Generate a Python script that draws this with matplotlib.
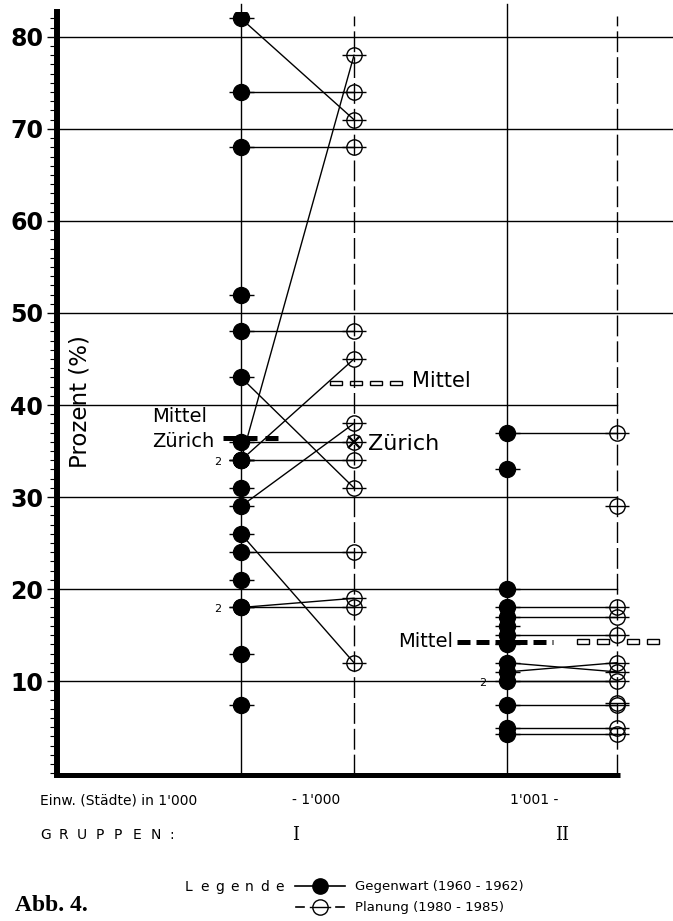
import matplotlib
matplotlib.use("Agg")
from matplotlib import pyplot as plt
from matplotlib.patches import Rectangle
from matplotlib.ticker import MultipleLocator

# Gruppe I (- 1'000 Einw.): Gegenwart -> Planung, paarweise verbunden
g1_now_linked = [82, 74, 68, 48, 43, 36, 34, 34, 34, 29, 26, 24, 18, 18]
g1_plan_linked = [71, 74, 68, 48, 31, 36, 34, 45, 78, 38, 12, 24, 19, 18]
g1_now_single = [52, 31, 21, 13, 7.4]
g1_plan_single = []

# Gruppe II (1'001 - Einw.)
g2_now_linked = [37, 18, 17, 15, 12, 11, 10, 7.4, 4.9, 4.3]
g2_plan_linked = [37, 18, 17, 15, 11, 12, 10, 7.4, 4.9, 4.3]
g2_now_single = [33, 20, 16, 14]
g2_plan_single = [29, 7.6]

mean_now = [36.4, 14.2]
mean_plan = [42.4, 14.3]
zurich_now = 36
zurich_plan = 36
double_g1 = [34, 18]
double_g2 = [10]

yticks = [10, 20, 30, 40, 50, 60, 70, 80]

W, H = 673, 921
fig = plt.figure(figsize=(W / 100, H / 100), dpi=100)


def px(x, y):
    return x / W, 1 - y / H


def spaced(text, x, y, step, size=10):
    # gesperrte Schrift, Buchstabe fuer Buchstabe
    for i, ch in enumerate(text):
        fig.text(*px(x + i * step, y), ch, fontsize=size, va="center")


ax = fig.add_axes([57 / W, 146 / H, 616 / W, 763 / H])
ax.set_xlim(0, 6.16)
ax.set_ylim(-0.2, 82.7)

cols = [1.84, 2.97, 4.50, 5.60]   # Gegenwart I, Planung I, Gegenwart II, Planung II

for s in ["top", "right", "bottom"]:
    ax.spines[s].set_visible(False)
ax.spines["left"].set_linewidth(4.3)
ax.set_xticks([])
ax.set_yticks(yticks)
ax.yaxis.set_minor_locator(MultipleLocator(1))
ax.tick_params(axis="y", which="major", length=7, width=1, pad=3, labelsize=17)
ax.tick_params(axis="y", which="minor", length=5, width=0.8)
for lab in ax.get_yticklabels():
    lab.set_fontweight("bold")

# horizontale Linien
for v in yticks:
    end = 6.16 if v >= 50 else cols[3]
    ax.plot([0, end], [v, v], color="black", lw=1.0, zorder=1)
ax.plot([0, 5.63], [-0.2, -0.2], color="black", lw=3.6, clip_on=False,
        solid_capstyle="butt", zorder=3)

# senkrechte Linien
for c in [cols[0], cols[2]]:
    ax.plot([c, c], [-0.2, 83.6], color="black", lw=1.0, clip_on=False, zorder=1)
for c in [cols[1], cols[3]]:
    ax.plot([c, c], [-0.2, 82.3], color="black", lw=1.0, clip_on=False,
            linestyle=(0, (15, 3.6)), zorder=1)

# Verbindungen
for x0, x1, a, b in [(cols[0], cols[1], g1_now_linked, g1_plan_linked),
                     (cols[2], cols[3], g2_now_linked, g2_plan_linked)]:
    for ya, yb in zip(a, b):
        ax.plot([x0, x1], [ya, yb], color="black", lw=1.0, zorder=2)

# Mittelwerte Gegenwart (fett gestrichelt)
ax.plot([1.66, 2.27], [mean_now[0]] * 2, color="black", lw=3.6,
        linestyle=(0, (2.6, 1.6)), solid_capstyle="butt", zorder=2)
ax.plot([4.00, 4.96], [mean_now[1]] * 2, color="black", lw=3.6,
        linestyle=(0, (2.6, 1.2)), solid_capstyle="butt", zorder=2)

# Mittelwerte Planung (offene Rechtecke)
rw, rh = 0.12, 0.5
for x in [2.73, 2.93, 3.13, 3.33]:
    ax.add_patch(Rectangle((x, mean_plan[0] - rh / 2), rw, rh, fill=False,
                           edgecolor="black", lw=1.0, zorder=2))
for x in [5.20, 5.40, 5.70, 5.90]:
    ax.add_patch(Rectangle((x, mean_plan[1] - rh / 2), rw, rh, fill=False,
                           edgecolor="black", lw=1.0, zorder=2))


def now_marks(x, vals):
    xs = [x] * len(vals)
    ax.plot(xs, vals, "_", color="black", ms=18, mew=1.0, zorder=4)
    ax.plot(xs, vals, "o", color="black", ms=11.5, zorder=5)


def plan_marks(x, vals):
    xs = [x] * len(vals)
    ax.plot(xs, vals, "_", color="black", ms=17, mew=1.0, zorder=4)
    ax.plot(xs, vals, "o", mfc="none", mec="black", ms=11, mew=1.0, zorder=5)


now_marks(cols[0], g1_now_linked + g1_now_single)
plan_marks(cols[1], g1_plan_linked + g1_plan_single)
now_marks(cols[2], g2_now_linked + g2_now_single)
plan_marks(cols[3], g2_plan_linked + g2_plan_single)
ax.plot([cols[1]], [zurich_plan], "x", color="black", ms=8, mew=1.6, zorder=6)

for v in double_g1:
    ax.text(cols[0] - 0.23, v - 0.2, "2", fontsize=8, ha="center", va="center")
for v in double_g2:
    ax.text(cols[2] - 0.24, v - 0.2, "2", fontsize=8, ha="center", va="center")

# Beschriftungen im Diagramm
ax.text(0.95, mean_now[0] + 2.3, "Mittel", fontsize=14, ha="left", va="center")
ax.text(0.95, zurich_now, "Zürich", fontsize=14, ha="left", va="center")
ax.text(3.55, mean_plan[0] + 0.2, "Mittel", fontsize=15, ha="left", va="center")
ax.text(3.11, zurich_plan - 0.2, "Zürich", fontsize=16, ha="left", va="center")
ax.text(3.96, mean_now[1] + 0.1, "Mittel", fontsize=14, ha="right", va="center")

fig.text(*px(80, 402), "Prozent (%)", rotation=90, fontsize=16.5,
         ha="center", va="center")

# untere Beschriftung
fig.text(*px(40, 800), "Einw. (Städte) in 1'000", fontsize=10, va="center")
fig.text(*px(292, 800), "- 1'000", fontsize=10, va="center")
fig.text(*px(510, 800), "1'001 -", fontsize=10, va="center")
spaced("GRUPPEN:", 40, 835, 18.5)
fig.text(*px(296, 835), "I", fontsize=13, family="DejaVu Serif",
         ha="center", va="center")
fig.text(*px(562, 835), "II", fontsize=13, family="DejaVu Serif",
         ha="center", va="center")

# Legende
spaced("Legende", 185, 887, 15)
leg = fig.add_axes([0, 0, 1, 1], facecolor="none")
leg.set_xlim(0, W)
leg.set_ylim(H, 0)
leg.axis("off")
leg.plot([295, 345], [886, 886], color="black", lw=1.2)
leg.plot([320], [886], "o", color="black", ms=11)
leg.plot([296, 304], [907, 907], color="black", lw=1.2)
leg.plot([336, 344], [907, 907], color="black", lw=1.2)
leg.plot([310, 330], [907, 907], color="black", lw=1.0)
leg.plot([320], [907], "o", mfc="none", mec="black", ms=11, mew=1.0)
fig.text(*px(355, 886), "Gegenwart (1960 - 1962)", fontsize=9.5, va="center")
fig.text(*px(355, 907), "Planung (1980 - 1985)", fontsize=9.5, va="center")
fig.text(*px(15, 905), "Abb. 4.", fontsize=17, family="Liberation Serif",
         weight="bold", va="center")

fig.savefig("out.png", dpi=100)
